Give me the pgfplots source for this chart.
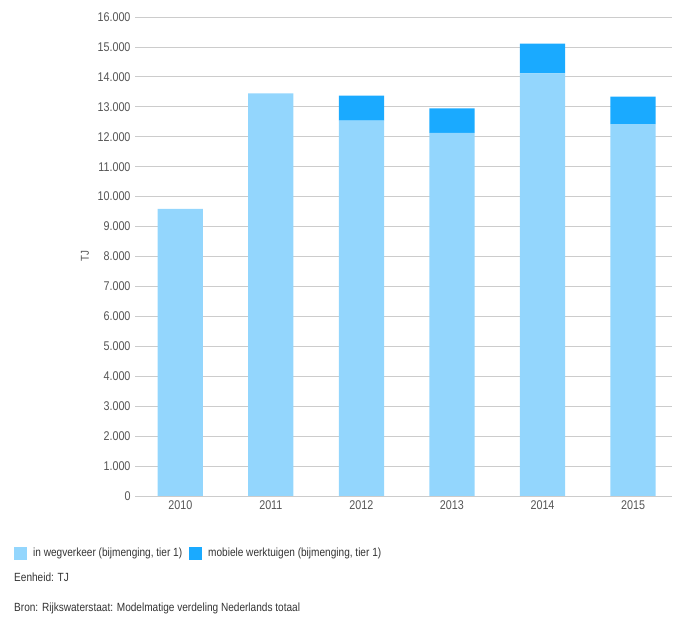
\documentclass[border=0pt]{standalone}
\usepackage{fontspec}
\setmainfont{Liberation Sans}[FakeStretch=0.85]
\usepackage{pgfplots}
\pgfplotsset{compat=1.18}
\definecolor{lb}{HTML}{93D6FD}
\definecolor{db}{HTML}{1AAAFF}
\definecolor{txt}{HTML}{555555}
\definecolor{gridc}{HTML}{CCCCCC}
\definecolor{dtxt}{HTML}{333333}
\begin{document}
\begin{tikzpicture}[x=1bp,y=1bp]
\path[use as bounding box] (0,0) rectangle (674,618);
\begin{axis}[
  at={(135bp,122bp)}, anchor=south west,
  scale only axis, width=537bp, height=479bp,
  ybar stacked, bar width=0.5,
  xmin=-0.5, xmax=5.43, ymin=0, ymax=16000,
  xtick={0,1,2,3,4,5}, xticklabels={2010,2011,2012,2013,2014,2015},
  ytick={0,1000,...,16000},
  ymajorgrids, major grid style={gridc, line width=0.8pt},
  axis line style={draw=none},
  major tick length=0pt,
  /pgf/number format/.cd, 1000 sep={.}, assume math mode=true, /pgfplots/.cd,
  scaled y ticks=false,
  tick label style={font=\fontsize{12.7}{14}\selectfont, text=txt},
  yticklabel style={xshift=-1bp},
  xticklabel style={yshift=-1bp},
  ylabel={TJ},
  ylabel style={at={(axis description cs:-0.093,0.5)}, anchor=center, font=\fontsize{11.5}{13}\selectfont, text=txt},
  legend columns=2,
  legend style={at={(-0.2253,-0.119)}, anchor=west, draw=none, fill=none, inner sep=0pt,
    font=\fontsize{11.9}{13}\selectfont, text=dtxt,
    /tikz/every even column/.append style={column sep=5bp}},
  legend image code/.code={\fill[#1] (0bp,-6.5bp) rectangle (13bp,6.5bp); \path (17bp,0bp);},
]
\addplot[fill=lb, draw=none] coordinates {(0,9590) (1,13450) (2,12540) (3,12130) (4,14120) (5,12420)};
\addlegendentry{in wegverkeer (bijmenging, tier 1)}
\addplot[fill=db, draw=none] coordinates {(0,0) (1,0) (2,830) (3,820) (4,990) (5,920)};
\addlegendentry{mobiele werktuigen (bijmenging, tier 1)}
\end{axis}
\node[anchor=west, text=dtxt, font=\fontsize{11.9}{13}\selectfont, inner sep=0pt] at (14,41) {Eenheid: TJ};
\node[anchor=west, text=dtxt, font=\fontsize{11.9}{13}\selectfont, inner sep=0pt] at (14,10) {Bron: Rijkswaterstaat: Modelmatige verdeling Nederlands totaal};
\end{tikzpicture}
\end{document}
